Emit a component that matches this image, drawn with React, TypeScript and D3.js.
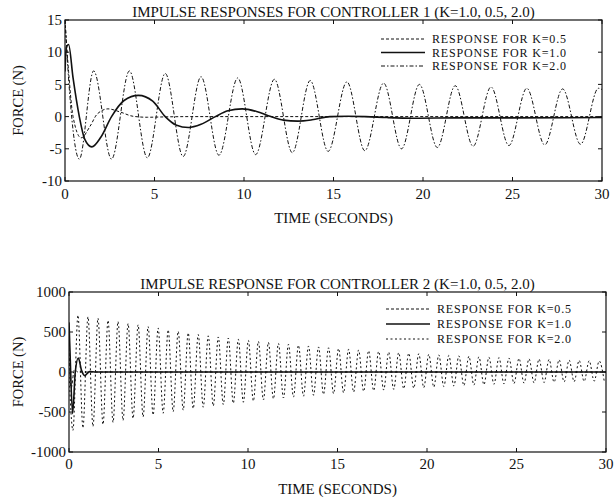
import React from "react";
import * as d3 from "d3";

// ---------- DATA ----------
const X_TICKS = [0, 5, 10, 15, 20, 25, 30];
const C1_Y_TICKS = [-10, -5, 0, 5, 10, 15];
const C2_Y_TICKS = [-1000, -500, 0, 500, 1000];
const LEGEND_LABELS = ["RESPONSE FOR K=0.5", "RESPONSE FOR K=1.0", "RESPONSE FOR K=2.0"];
const TITLE_1 = "IMPULSE RESPONSES FOR CONTROLLER 1 (K=1.0, 0.5, 2.0)";
const TITLE_2 = "IMPULSE RESPONSE FOR CONTROLLER 2 (K=1.0, 0.5, 2.0)";
const X_LABEL = "TIME (SECONDS)";
const Y_LABEL = "FORCE (N)";

// Controller 1 (time s, force N)
const C1_K05: [number, number][] = [
  [0, 15], [0.2, 7], [0.45, 0], [0.9, -3.3], [1.4, -1.5], [1.8, 0.4], [2.4, 1.2],
  [3.1, 0.7], [3.8, 0.05], [4.6, -0.1], [5.5, -0.05], [7, 0], [30, 0],
];
const C1_K10: [number, number][] = [
  [0, 7], [0.08, 10.8], [0.2, 11.2], [0.45, 6], [0.8, 0], [1.1, -3.5], [1.5, -4.7],
  [2.0, -3.2], [2.6, 0], [3.3, 2.5], [4.1, 3.3], [4.9, 2.4], [5.6, 0], [6.2, -1.3],
  [6.9, -1.7], [7.6, -1.2], [8.4, 0], [9.1, 0.9], [9.9, 1.2], [10.7, 0.8], [11.5, 0],
  [12.2, -0.55], [13, -0.7], [13.8, -0.5], [14.8, 0], [15.8, 0.05], [16.8, 0],
  [18, -0.15], [19.5, -0.25], [22, -0.2], [25, -0.2], [30, -0.15],
];
const C1_K20: [number, number][] = [
  [0, 15], [0.25, 4], [0.8, -6.6], [1.6, 7.1], [2.6, -6.6], [3.6, 7.1], [4.6, -6.4],
  [5.6, 6.7], [6.6, -6.2], [7.6, 6.2], [8.6, -6.0], [9.65, 6.0], [10.65, -5.9],
  [11.7, 5.8], [12.7, -5.6], [13.7, 5.6], [14.7, -5.4], [15.75, 5.4], [16.75, -5.3],
  [17.8, 5.2], [18.8, -5.0], [19.8, 5.0], [20.8, -4.8], [21.8, 4.8], [22.8, -4.6],
  [23.8, 4.6], [24.8, -4.5], [25.8, 4.4], [26.8, -4.4], [27.8, 4.3], [28.8, -4.3],
  [29.8, 4.4], [30, 4.2],
];

// Controller 2
const C2_K05: [number, number][] = [
  [0, 300], [0.12, -200], [0.3, 30], [0.5, 0], [30, 0],
];
const C2_K10: [number, number][] = [
  [0, 620], [0.05, 300], [0.2, -520], [0.35, 0], [0.52, 175], [0.7, 20],
  [0.88, -45], [1.15, 5], [1.5, 0], [30, 0],
];
const C2_K20_PEAKS: [number, number][] = [
  [0.5, 710], [1.06, 690], [1.62, 672], [2.18, 645], [2.74, 630], [3.3, 605],
  [3.86, 590], [4.42, 568], [4.98, 550], [5.54, 528], [6.1, 508], [6.66, 490],
  [7.22, 468], [7.78, 452], [8.34, 438], [8.9, 424], [9.46, 410], [10.02, 396],
  [10.58, 383], [11.14, 370], [11.7, 358], [12.26, 346], [12.82, 335], [13.38, 324],
  [13.94, 313], [14.5, 303], [15.06, 293], [15.62, 284], [16.18, 275], [16.74, 266],
  [17.3, 258], [17.86, 250], [18.42, 242], [18.98, 235], [19.54, 228], [20.1, 221],
  [20.66, 214], [21.22, 208], [21.78, 202], [22.34, 196], [22.9, 190], [23.46, 185],
  [24.02, 180], [24.58, 175], [25.14, 170], [25.7, 165], [26.26, 161], [26.82, 157],
  [27.38, 153], [27.94, 149], [28.5, 145], [29.06, 141], [29.62, 138],
];
const C2_K20_TROUGHS: [number, number][] = [
  [0.22, -730], [0.78, -700], [1.34, -680], [1.9, -655], [2.46, -630], [3.02, -605],
  [3.58, -580], [4.14, -560], [4.7, -538], [5.26, -515], [5.82, -496], [6.38, -477],
  [6.94, -458], [7.5, -440], [8.06, -424], [8.62, -408], [9.18, -392], [9.74, -378],
  [10.3, -364], [10.86, -350], [11.42, -337], [11.98, -325], [12.54, -313], [13.1, -302],
  [13.66, -291], [14.22, -280], [14.78, -270], [15.34, -260], [15.9, -251], [16.46, -242],
  [17.02, -233], [17.58, -225], [18.14, -217], [18.7, -209], [19.26, -202], [19.82, -195],
  [20.38, -188], [20.94, -182], [21.5, -176], [22.06, -170], [22.62, -164], [23.18, -159],
  [23.74, -154], [24.3, -149], [24.86, -144], [25.42, -140], [25.98, -136], [26.54, -132],
  [27.1, -128], [27.66, -124], [28.22, -121], [28.78, -118], [29.34, -115], [29.9, -112],
];
const C2_K20_START: [number, number][] = [[0, 0]];

// ---------- DRAWING ----------
const FONT = "'Liberation Serif', 'DejaVu Serif', serif";
const INK = "#111";

type Series = { data: [number, number][]; dash: string; width: number };

type PanelProps = {
  left: number; right: number; top: number; bottom: number;
  yDomain: [number, number]; yTicks: number[];
  series: Series[];
  title: string; titleY: number;
  legendX: number; legendY: number; legendStep: number;
  tickLabelY: number; axisLabelY: number;
};

function Panel(p: PanelProps) {
  const x = d3.scaleLinear().domain([0, 30]).range([p.left, p.right]);
  const y = d3.scaleLinear().domain(p.yDomain).range([p.bottom, p.top]);
  const line = d3.line<[number, number]>()
    .x((d) => x(d[0]))
    .y((d) => y(d[1]))
    .curve(d3.curveMonotoneX);
  const clipId = `clip-${p.top}`;
  const cx = (p.left + p.right) / 2;
  const cy = (p.top + p.bottom) / 2;
  const tl = 4;
  return (
    <g>
      <defs>
        <clipPath id={clipId}>
          <rect x={p.left} y={p.top} width={p.right - p.left} height={p.bottom - p.top} />
        </clipPath>
      </defs>
      <g clipPath={`url(#${clipId})`}>
        {p.series.map((s, i) => (
          <path key={i} d={line(s.data) || ""} fill="none" stroke={INK}
            strokeWidth={s.width} strokeDasharray={s.dash} />
        ))}
      </g>
      <rect x={p.left} y={p.top} width={p.right - p.left} height={p.bottom - p.top}
        fill="none" stroke={INK} strokeWidth={1.2} />
      {X_TICKS.map((t) => (
        <g key={`x${t}`}>
          <line x1={x(t)} x2={x(t)} y1={p.bottom} y2={p.bottom - tl} stroke={INK} />
          <line x1={x(t)} x2={x(t)} y1={p.top} y2={p.top + tl} stroke={INK} />
          <text x={x(t)} y={p.tickLabelY} textAnchor="middle" fontSize={15} fontFamily={FONT} fill={INK}>{t}</text>
        </g>
      ))}
      {p.yTicks.map((t) => (
        <g key={`y${t}`}>
          <line x1={p.left} x2={p.left + tl} y1={y(t)} y2={y(t)} stroke={INK} />
          <line x1={p.right} x2={p.right - tl} y1={y(t)} y2={y(t)} stroke={INK} />
          <text x={p.left - 3} y={y(t)} dy="0.35em" textAnchor="end" fontSize={15} fontFamily={FONT} fill={INK}>{t}</text>
        </g>
      ))}
      <text x={cx} y={p.titleY} textAnchor="middle" fontSize={15} fontFamily={FONT} fill={INK}>{p.title}</text>
      <text x={cx} y={p.axisLabelY} textAnchor="middle" fontSize={15} fontFamily={FONT} fill={INK}>{X_LABEL}</text>
      <text transform={`translate(18,${cy}) rotate(-90)`} dy="0.35em" textAnchor="middle" fontSize={14.5} fontFamily={FONT} fill={INK}>{Y_LABEL}</text>
      {LEGEND_LABELS.map((lab, i) => {
        const ly = p.legendY + i * p.legendStep;
        const s = p.series[i];
        return (
          <g key={lab}>
            <line x1={p.legendX} x2={p.legendX + 44} y1={ly} y2={ly} stroke={INK}
              strokeWidth={s.width} strokeDasharray={s.dash} />
            <text x={p.legendX + 51} y={ly} dy="0.35em" fontSize={12} textLength={134}
              lengthAdjust="spacing" fontFamily={FONT} fill={INK}>{lab}</text>
          </g>
        );
      })}
    </g>
  );
}

export default function App() {
  const c2k20 = [...C2_K20_START, ...C2_K20_PEAKS, ...C2_K20_TROUGHS].sort((a, b) => a[0] - b[0]);
  return (
    <svg width={614} height={498} style={{ position: "absolute", left: 0, top: 0, background: "#fff" }}>
      <Panel left={65} right={602} top={20} bottom={181}
        yDomain={[-10, 15]} yTicks={C1_Y_TICKS}
        series={[
          { data: C1_K05, dash: "3,2", width: 1 },
          { data: C1_K10, dash: "", width: 1.6 },
          { data: C1_K20, dash: "4,2,1.5,2", width: 1 },
        ]}
        title={TITLE_1} titleY={17}
        legendX={381} legendY={39} legendStep={13.5}
        tickLabelY={199} axisLabelY={223} />
      <Panel left={69} right={606} top={292} bottom={452}
        yDomain={[-1000, 1000]} yTicks={C2_Y_TICKS}
        series={[
          { data: C2_K05, dash: "3,2", width: 1 },
          { data: C2_K10, dash: "", width: 1.6 },
          { data: c2k20, dash: "2,2.5", width: 1 },
        ]}
        title={TITLE_2} titleY={289}
        legendX={386} legendY={309} legendStep={15}
        tickLabelY={469} axisLabelY={494} />
    </svg>
  );
}
